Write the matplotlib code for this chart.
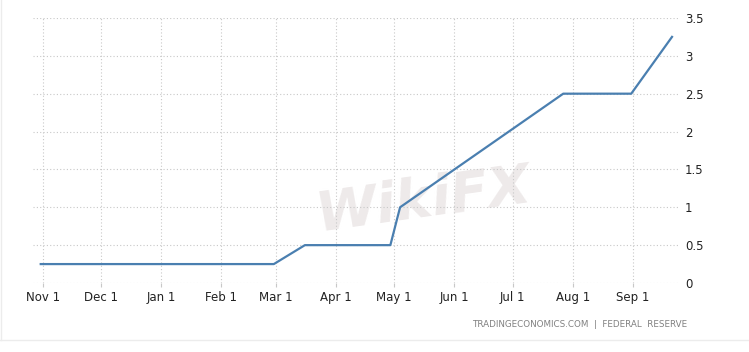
import matplotlib
matplotlib.use('Agg')
import matplotlib.pyplot as plt
import matplotlib.dates as mdates
import pandas as pd

# dates and rate values (%)
dates = ['2021-10-31', '2022-02-28', '2022-03-16', '2022-04-29', '2022-05-04',
         '2022-06-15', '2022-07-27', '2022-08-31', '2022-09-21']
rates = [0.25, 0.25, 0.5, 0.5, 1.0, 1.75, 2.5, 2.5, 3.25]

x_ticks = ['2021-11-01', '2021-12-01', '2022-01-01', '2022-02-01', '2022-03-01',
           '2022-04-01', '2022-05-01', '2022-06-01', '2022-07-01', '2022-08-01',
           '2022-09-01']
y_ticks = [0, 0.5, 1, 1.5, 2, 2.5, 3, 3.5]
y_labels = ['0', '0.5', '1', '1.5', '2', '2.5', '3', '3.5']
source = 'TRADINGECONOMICS.COM  |  FEDERAL  RESERVE'

d = pd.to_datetime(dates)
t = pd.to_datetime(x_ticks)

fig = plt.figure(figsize=(7.49, 3.52), dpi=100)
ax = fig.add_axes([0.044, 0.196, 0.861, 0.753])

# faint watermark, kept under the line
ax.text(0.565, 0.43, 'WikiFX', fontsize=40, fontweight='bold', style='italic',
        color='#eeeaea', ha='center', va='center', rotation=8, zorder=1,
        transform=fig.transFigure)

ax.plot(d, rates, color='#4a7fb0', linewidth=1.6, zorder=3)

ax.set_xlim(pd.Timestamp('2021-10-27'), pd.Timestamp('2022-09-24'))
ax.set_ylim(0, 3.5)
ax.set_xticks(t)
ax.xaxis.set_major_formatter(mdates.DateFormatter('%b %-d'))
ax.set_yticks(y_ticks)
ax.set_yticklabels(y_labels)
ax.yaxis.tick_right()

ax.grid(True, color='#c8c8c8', linestyle=(0, (1, 2)), linewidth=0.8, zorder=2)
ax.set_axisbelow(False)
for s in ax.spines.values():
    s.set_visible(False)
ax.patch.set_alpha(0)

ax.tick_params(axis='x', length=3, color='#c8c8c8', labelsize=8.5,
               labelcolor='#222222', pad=3)
ax.tick_params(axis='y', length=0, labelsize=8.5, labelcolor='#222222', pad=5)

fig.text(0.917, 0.077, source, fontsize=6.3, color='#808080', ha='right',
         va='center')

# card border lines
fig.add_artist(plt.Line2D([0, 1], [0.034, 0.034], color='#ececec', linewidth=1,
                          transform=fig.transFigure))
fig.add_artist(plt.Line2D([0.002, 0.002], [0.034, 1], color='#ececec', linewidth=1,
                          transform=fig.transFigure))

fig.savefig('out.png', dpi=100)
